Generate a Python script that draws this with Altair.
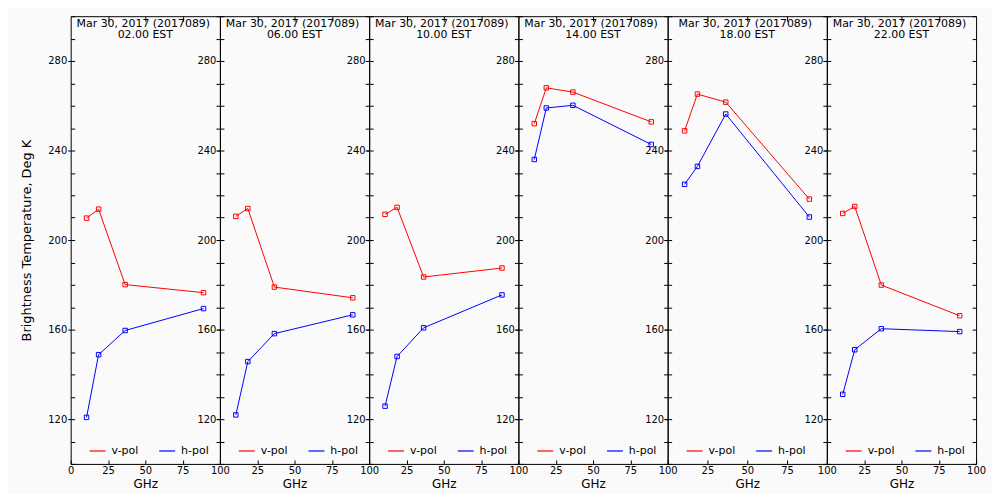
import altair as alt
import pandas as pd

FONT = "DejaVu Sans"

freqs = [10.65, 18.7, 36.5, 89.0]
pols = ["v-pol", "h-pol"]
date_label = "Mar 30, 2017 (2017089)"
times = ["02.00 EST", "06.00 EST", "10.00 EST", "14.00 EST", "18.00 EST", "22.00 EST"]

vpol = [
    [209.8, 213.8, 180.1, 176.5],
    [210.6, 214.1, 179.0, 174.2],
    [211.5, 214.6, 183.5, 187.5],
    [252.0, 268.0, 266.1, 252.8],
    [248.8, 265.2, 261.6, 218.3],
    [211.9, 215.0, 179.9, 166.2],
]
hpol = [
    [120.8, 148.8, 159.6, 169.4],
    [121.9, 145.7, 158.2, 166.6],
    [125.8, 148.0, 160.8, 175.5],
    [236.0, 259.0, 260.2, 242.7],
    [224.9, 232.9, 256.3, 210.3],
    [131.1, 151.0, 160.4, 159.1],
]
widths = [150, 150, 150, 150, 160, 150]
y_major = [120, 160, 200, 240, 280]
y_minor = list(range(100, 301, 10))
x_inner = [25, 50, 75]

H = 450
panels = []
for i in range(6):
    w = widths[i]
    df = pd.DataFrame({
        "freq": freqs * 2,
        "temp": vpol[i] + hpol[i],
        "pol": [pols[0]] * 4 + [pols[1]] * 4,
    })
    base = alt.Chart(df)
    xs = alt.Scale(domain=[0, 100], nice=False, zero=False)
    ys = alt.Scale(domain=[100, 300], nice=False, zero=False)
    cscale = alt.Scale(domain=pols, range=["#ff0000", "#0000ff"])
    xlabels = [0, 25, 50, 75, 100] if i == 0 else [25, 50, 75, 100]

    line = base.mark_line(strokeWidth=1).encode(
        x=alt.X("freq:Q", scale=xs, axis=alt.Axis(
            orient="bottom", values=xlabels, offset=-4, tickSize=4, domain=False,
            grid=False, labelPadding=2, labelFlush=False, labelOverlap=False,
            title="GHz", titlePadding=3, titleFontSize=12)),
        y=alt.Y("temp:Q", scale=ys, axis=alt.Axis(
            orient="left", values=y_major, tickSize=3, labelPadding=1, domain=False,
            grid=False, labelOverlap=False,
            title="Brightness Temperature, Deg K" if i == 0 else "",
            titlePadding=14, titleFontSize=13)),
        color=alt.Color("pol:N", scale=cscale, legend=alt.Legend(
            orient="none", legendX=18, legendY=428, direction="horizontal",
            title=None, symbolType="stroke", symbolSize=256, symbolStrokeWidth=1.2,
            labelFont=FONT, labelFontSize=11, labelColor="black", labelOffset=5,
            columnPadding=18, padding=0)),
    )
    pts = base.mark_point(shape="square", filled=False, size=20, strokeWidth=1, opacity=1).encode(
        x=alt.X("freq:Q", scale=xs, axis=alt.Axis(
            orient="top", values=x_inner, offset=-5, tickSize=5, labels=False,
            domain=False, grid=False, title="")),
        y=alt.Y("temp:Q", scale=ys, axis=alt.Axis(
            orient="left", values=y_minor, offset=-4, tickSize=4, labels=False,
            domain=False, grid=False, title="")),
        color=alt.Color("pol:N", scale=cscale, legend=None),
    )
    rt = base.mark_point(opacity=0).encode(
        x=alt.X("freq:Q", scale=xs, axis=None),
        y=alt.Y("temp:Q", scale=ys, axis=alt.Axis(
            orient="right", values=y_minor, offset=-4, tickSize=4, labels=False,
            domain=False, grid=False, title="")),
    )
    t1 = alt.Chart(pd.DataFrame({"t": [date_label]})).mark_text(
        align="center", baseline="alphabetic", font=FONT, fontSize=11, color="black"
    ).encode(text="t:N", x=alt.value(w / 2 - 2), y=alt.value(11))
    t2 = alt.Chart(pd.DataFrame({"t": [times[i]]})).mark_text(
        align="center", baseline="alphabetic", font=FONT, fontSize=11, color="black"
    ).encode(text="t:N", x=alt.value(w / 2), y=alt.value(22))

    panel = alt.layer(line, pts, rt, t1, t2).resolve_axis(
        x="independent", y="independent"
    ).properties(width=w, height=H)
    panels.append(panel)

chart = alt.hconcat(*panels, spacing=0, bounds="flush").resolve_scale(
    color="independent"
).resolve_legend(color="independent").properties(
    padding={"left": 12, "top": 6, "right": 5, "bottom": 2},
    background="#fafafa",
).configure_view(
    stroke="black", strokeWidth=1
).configure_axis(
    labelFont=FONT, labelFontSize=10, labelColor="black", tickColor="black",
    tickWidth=1, titleFont=FONT, titleFontWeight="normal", titleColor="black",
)

chart.save("out.html", embed_options={"renderer": "svg", "actions": False})
